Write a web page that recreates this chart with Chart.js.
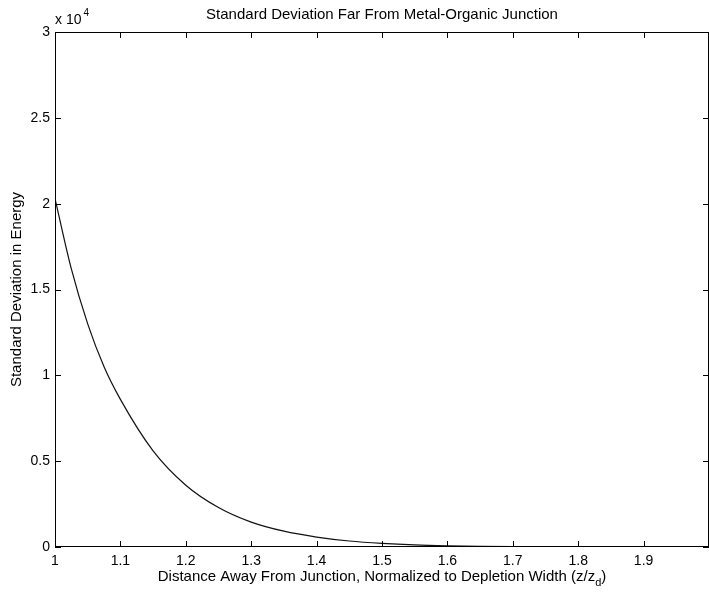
<!DOCTYPE html>
<html>
<head>
<meta charset="utf-8">
<script src="https://cdn.jsdelivr.net/npm/chart.js@4/dist/chart.umd.min.js"></script>
<style>
  html, body { margin: 0; padding: 0; background: #fff; overflow: hidden; }
  #wrap { width: 709px; height: 594px; position: relative; }
</style>
</head>
<body>
<div id="wrap"><canvas id="sdChart" width="709" height="594"></canvas></div>
<script>
// distance z/zd and standard deviation in energy (raw units, axis shows x 10^4)
const distance = [1.00, 1.025, 1.05, 1.075, 1.10, 1.15, 1.20, 1.25, 1.30, 1.35, 1.40, 1.45,
                  1.50, 1.55, 1.60, 1.65, 1.70, 1.75, 1.80, 1.85, 1.90, 1.95, 2.00];
const stdDev = [20300, 16200, 13000, 10500, 8600, 5600, 3600, 2300, 1450, 920, 580, 350,
                210, 120, 70, 40, 20, 10, 6, 3, 2, 1, 0];

const xTicks = [1, 1.1, 1.2, 1.3, 1.4, 1.5, 1.6, 1.7, 1.8, 1.9];
const yTicks = [0, 0.5, 1, 1.5, 2, 2.5, 3];

const chartTitle = 'Standard Deviation Far From Metal-Organic Junction';
const yTitle = 'Standard Deviation in Energy';
const xTitle = 'Distance Away From Junction, Normalized to Depletion Width (z/z';

const FONT = 'Arial, "Liberation Sans", Helvetica, sans-serif';

const matlabFrame = {
    id: 'matlabFrame',
    afterDraw(chart) {
        const ctx = chart.ctx;
        const a = chart.chartArea;
        const xs = chart.scales.x, ys = chart.scales.y;
        ctx.save();
        ctx.strokeStyle = '#000';
        ctx.lineWidth = 1;
        ctx.strokeRect(a.left + 0.5, a.top + 0.5, a.right - a.left - 1, a.bottom - a.top - 1);

        // inward ticks on all four sides
        const tl = 6;
        ctx.beginPath();
        xTicks.concat([2]).forEach(v => {
            const px = Math.round(xs.getPixelForValue(v)) + 0.5;
            ctx.moveTo(px, a.bottom); ctx.lineTo(px, a.bottom - tl);
            ctx.moveTo(px, a.top); ctx.lineTo(px, a.top + tl);
        });
        yTicks.forEach(v => {
            const py = Math.round(ys.getPixelForValue(v * 1e4)) + 0.5;
            ctx.moveTo(a.left, py); ctx.lineTo(a.left + tl, py);
            ctx.moveTo(a.right, py); ctx.lineTo(a.right - tl, py);
        });
        ctx.stroke();

        ctx.fillStyle = '#000';
        // title
        ctx.font = '15px ' + FONT;
        ctx.textAlign = 'center';
        ctx.textBaseline = 'middle';
        ctx.fillText(chartTitle, 382, 15);

        // exponent label
        ctx.textAlign = 'left';
        ctx.font = '14px ' + FONT;
        ctx.fillText('x 10', 55, 20);
        const w = ctx.measureText('x 10').width;
        ctx.font = '10px ' + FONT;
        ctx.fillText('4', 55 + w + 2, 13);

        // x title with subscript
        ctx.font = '15px ' + FONT;
        const mainW = ctx.measureText(xTitle).width;
        ctx.font = '11px ' + FONT;
        const subW = ctx.measureText('d').width;
        ctx.font = '15px ' + FONT;
        const closeW = ctx.measureText(')').width;
        const total = mainW + subW + closeW;
        let x0 = 382 - total / 2;
        ctx.textBaseline = 'alphabetic';
        ctx.fillText(xTitle, x0, 581);
        ctx.font = '11px ' + FONT;
        ctx.fillText('d', x0 + mainW, 586);
        ctx.font = '15px ' + FONT;
        ctx.fillText(')', x0 + mainW + subW, 581);
        ctx.restore();
    }
};

new Chart(document.getElementById('sdChart'), {
    type: 'line',
    data: {
        datasets: [{
            data: distance.map((d, i) => ({ x: d, y: stdDev[i] })),
            borderColor: '#111',
            borderWidth: 1.2,
            pointRadius: 0,
            cubicInterpolationMode: 'monotone',
            fill: false
        }]
    },
    options: {
        responsive: false,
        animation: false,
        layout: { padding: { top: 32, right: 0, left: 0, bottom: 0 } },
        plugins: {
            legend: { display: false },
            tooltip: { enabled: false },
            title: { display: false }
        },
        scales: {
            x: {
                type: 'linear',
                min: 1,
                max: 2,
                afterFit(scale) { scale.height = 47; },
                afterBuildTicks(scale) { scale.ticks = xTicks.map(v => ({ value: v })); },
                grid: { display: false, drawTicks: false },
                border: { display: false },
                ticks: {
                    padding: 6,
                    color: '#000',
                    font: { family: FONT, size: 14 },
                    maxRotation: 0,
                    callback: v => String(Number(v.toFixed(1)))
                }
            },
            y: {
                min: 0,
                max: 30000,
                afterFit(scale) { scale.width = 55; },
                afterBuildTicks(scale) { scale.ticks = yTicks.map(v => ({ value: v * 1e4 })); },
                grid: { display: false, drawTicks: false },
                border: { display: false },
                title: {
                    display: true,
                    text: yTitle,
                    color: '#000',
                    font: { family: FONT, size: 15 },
                    padding: { top: 8, bottom: 0 }
                },
                ticks: {
                    padding: 5,
                    color: '#000',
                    font: { family: FONT, size: 14 },
                    callback: v => String(Number((v / 1e4).toFixed(1)))
                }
            }
        }
    },
    plugins: [matlabFrame]
});
</script>
</body>
</html>
